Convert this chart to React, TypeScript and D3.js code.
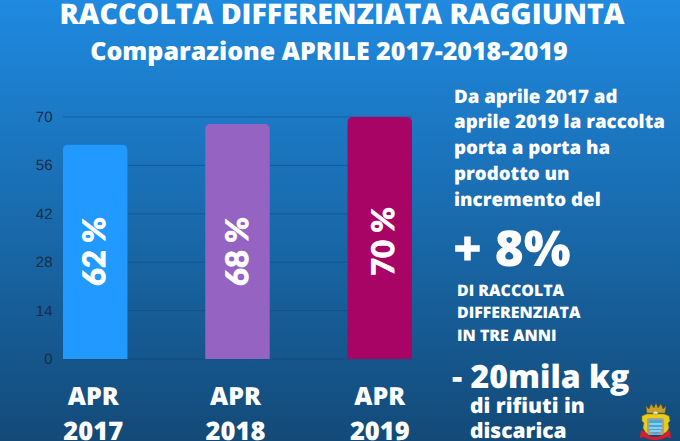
import * as d3 from "d3"

const years = ["2017", "2018", "2019"]
const values = [62, 68, 70]
const barLabels = ["62 %", "68 %", "70 %"]
const barColors = ["#2299ff", "#9564c3", "#a80465"]
const yTicks = [0, 14, 28, 42, 56, 70]
const sideLines = ["Da aprile 2017 ad", "aprile 2019 la raccolta", "porta a porta ha", "prodotto un", "incremento del"]
const middleLines = ["DI RACCOLTA", "DIFFERENZIATA", "IN TRE ANNI"]
const bottomLines = ["di rifiuti in", "discarica"]

const WIDTH = 680
const HEIGHT = 441
const sans = "'Open Sans', sans-serif"

export default function App() {
  const x = d3.scaleBand<string>().domain(years).range([63, 412]).paddingInner(0.547).paddingOuter(0)
  const y = d3.scaleLinear().domain([0, 70]).range([359, 117])

  return (
    <svg
      width={WIDTH}
      height={HEIGHT}
      viewBox={`0 0 ${WIDTH} ${HEIGHT}`}
      style={{ position: "fixed", left: 0, top: 0, display: "block", textRendering: "geometricPrecision" }}
    >
      <defs>
        <linearGradient id="bg" x1="0" y1="0" x2="0" y2="1">
          <stop offset="0" stopColor="#1f8ae0" />
          <stop offset="1" stopColor="#134a78" />
        </linearGradient>
      </defs>
      <rect width={WIDTH} height={HEIGHT} fill="url(#bg)" />

      {/* titles */}
      <text x={342} y={24} textAnchor="middle" fontFamily={sans} fontWeight={800} fontSize={28.5} fill="#fff">
        RACCOLTA DIFFERENZIATA RAGGIUNTA
      </text>
      <text x={329} y={60} textAnchor="middle" fontFamily={sans} fontWeight={800} fontSize={25} fill="#fff">
        Comparazione APRILE 2017-2018-2019
      </text>

      {/* grid and y axis */}
      {yTicks.map((t) => (
        <g key={t}>
          <line x1={63} x2={412} y1={y(t)} y2={y(t)} stroke="#10406b" strokeOpacity={0.45} strokeWidth={1} />
          <text
            x={52.5}
            y={y(t) + 5}
            textAnchor="end"
            fontFamily="'Liberation Sans', sans-serif"
            fontSize={15}
            fill="#1a2c42"
          >
            {t}
          </text>
        </g>
      ))}

      {/* bars */}
      {years.map((year, i) => {
        const left = x(year) as number
        const w = x.bandwidth()
        const top = y(values[i])
        const r = 5
        const cx = left + w / 2
        const labelShift = i === 2 ? 3 : -1
        const path = d3.path()
        path.moveTo(left, y(0))
        path.lineTo(left, top + r)
        path.arcTo(left, top, left + r, top, r)
        path.lineTo(left + w - r, top)
        path.arcTo(left + w, top, left + w, top + r, r)
        path.lineTo(left + w, y(0))
        path.closePath()
        return (
          <g key={year}>
            <path d={path.toString()} fill={barColors[i]} />
            <text
              transform={`translate(${cx + 11 + labelShift},${i === 2 ? 276 : 286}) rotate(-90)`}
              fontFamily="Lato, sans-serif"
              fontWeight={900}
              fontSize={31}
              stroke="#fff"
              strokeWidth={0.8}
              fill="#fff"
            >
              {barLabels[i]}
            </text>
            <text x={cx - 2 + (i === 2 ? 2 : 0)} y={405} textAnchor="middle" fontFamily={sans} fontWeight={800} fontSize={25} fill="#fff">
              APR
            </text>
            <text x={cx - 2 + (i === 2 ? 2 : 0)} y={440} textAnchor="middle" fontFamily={sans} fontWeight={800} fontSize={25.5} fill="#fff">
              {year}
            </text>
          </g>
        )
      })}

      {/* side text */}
      {sideLines.map((line, i) => (
        <text key={line} x={454} y={[103, 128, 154, 180, 206][i]} fontFamily={sans} fontWeight={800} fontSize={18.7} fill="#fff">
          {line}
        </text>
      ))}
      <text x={453} y={266} fontFamily={sans} fontWeight={800} fontSize={49.5} fill="#fff">
        + 8%
      </text>
      {middleLines.map((line, i) => (
        <text key={line} x={457} y={[296, 318, 341][i]} fontFamily={sans} fontWeight={800} fontSize={15.9} fill="#fff">
          {line}
        </text>
      ))}
      <text x={452} y={388} fontFamily={sans} fontWeight={800} fontSize={32} fill="#fff">
        - 20mila kg
      </text>
      {bottomLines.map((line, i) => (
        <text key={line} x={470} y={[413, 438][i]} fontFamily={sans} fontWeight={800} fontSize={21} fill="#fff">
          {line}
        </text>
      ))}

      {/* municipal crest */}
      <g>
        <path d="M647 413 l-1 -7 3 3 2 -5 3 4 2 -5 2 5 3 -4 2 5 3 -3 -1 7 z" fill="#c9a02a" stroke="#6f5a18" strokeWidth={0.5} />
        <circle cx={655.5} cy={414} r={2.5} fill="#e8e8e0" />
        <path d="M642 416 l5 -2 h17 l5 2 l1 5 -2 2 1 5 -3 5 h-20 l-3 -5 1 -5 -2 -2 z" fill="#e6cf1c" stroke="#8f8318" strokeWidth={0.6} />
        <rect x={647} y={418} width={17} height={17} rx={2} fill="#a5a294" />
        <path d="M649 420 h13 v8 q0 5 -6.5 6 q-6.5 -1 -6.5 -6 z" fill="#42a8d8" />
        <path d="M649 424 h13 M649 428 h13 M650 431 h11" stroke="#d8eef8" strokeWidth={1.2} />
        <path d="M641 430 l4 2 q3 5 10 5 q7 0 11 -5 l4 -2 l1 8 -4 -1 q-5 3 -12 3 q-7 0 -11 -3 l-4 1 z" fill="#d81e2c" />
      </g>
    </svg>
  )
}
